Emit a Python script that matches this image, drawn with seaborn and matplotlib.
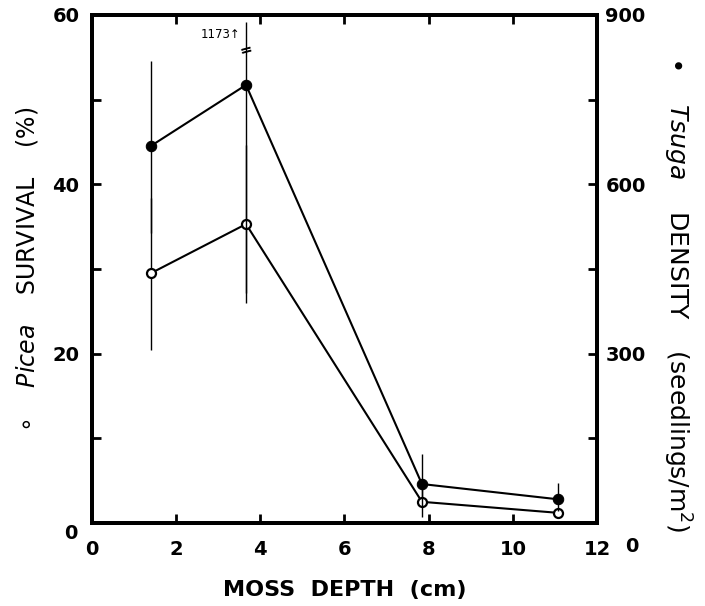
import matplotlib
matplotlib.use('Agg')
import matplotlib.pyplot as plt
import matplotlib.transforms as mtransforms
import seaborn as sns
import pandas as pd

# moss depth (cm)
depth = [1.4, 3.66, 7.84, 11.07]

# Picea survival (%), open circles, left axis
picea = [29.5, 35.3, 2.5, 1.2]
picea_lo = [20.4, 26.0, 0.7, 0.6]
picea_hi = [38.4, 44.6, 4.3, 1.8]

# Tsuga density (seedlings/m2), filled circles, right axis
tsuga = [668, 776, 69, 42]
tsuga_lo = [513, 408, 30, 22]
tsuga_hi = [818, 1173, 122, 71]

TSUGA_CLIP = 888  # where the off-scale bar is cut

sns.set_style('ticks')
plt.rcParams['font.family'] = ['DejaVu Sans']
plt.rcParams['text.color'] = 'black'
plt.rcParams['axes.labelcolor'] = 'black'
plt.rcParams['xtick.color'] = 'black'
plt.rcParams['ytick.color'] = 'black'
plt.rcParams['mathtext.fontset'] = 'custom'
plt.rcParams['mathtext.it'] = 'DejaVu Sans:italic'
plt.rcParams['mathtext.rm'] = 'DejaVu Sans'

df = pd.DataFrame({'depth': depth, 'picea': picea, 'tsuga': tsuga})

fig = plt.figure(figsize=(7.05, 6.06), dpi=100)
ax = fig.add_axes([0.1305, 0.137, 0.7163, 0.8383])
ax2 = ax.twinx()

# error bars
ax.vlines(depth, picea_lo, picea_hi, color='black', lw=1.0, zorder=2)
ax2.vlines(depth, tsuga_lo, [min(v, TSUGA_CLIP) for v in tsuga_hi],
           color='black', lw=1.0, zorder=2)

sns.lineplot(data=df, x='depth', y='picea', ax=ax, color='black', lw=1.5,
             marker='o', markersize=6.5, markerfacecolor='white',
             markeredgecolor='black', markeredgewidth=1.6, zorder=3)
sns.lineplot(data=df, x='depth', y='tsuga', ax=ax2, color='black', lw=1.5,
             marker='o', markersize=7.5, markerfacecolor='black',
             markeredgecolor='black', zorder=3)

# break mark and off-scale value
ax2.text(depth[1], 838, '=', rotation=15, ha='center', va='center',
         fontsize=11, fontweight='bold', color='black')
ax2.text(3.52, 866, '1173\u2191', ha='right', va='center', fontsize=8.5,
         color='black')

ax.set_xlim(0, 12)
ax.set_ylim(0, 60)
ax2.set_ylim(0, 900)
ax.set_xticks(range(0, 13, 2))
ax.set_yticks([0, 20, 40, 60])
ax.set_yticks([10, 30, 50], minor=True)
ax2.set_yticks([0, 300, 600, 900])
ax2.set_yticks([150, 450, 750], minor=True)

for a in (ax, ax2):
    for s in a.spines.values():
        s.set_linewidth(2.8)
        s.set_visible(True)
        s.set_color('black')

ax.tick_params(axis='both', which='both', direction='in', length=6.5, width=2,
               labelsize=14)
ax.tick_params(axis='x', top=True, pad=12)
ax.tick_params(axis='y', pad=9)
ax2.tick_params(axis='y', which='both', direction='in', length=6.5, width=2,
                labelsize=14, pad=6)
for lab in ax.get_xticklabels() + ax.get_yticklabels() + ax2.get_yticklabels():
    lab.set_fontweight('bold')

# the zero labels sit a little low in the original
zl = ax.get_yticklabels()[0]
zl.set_transform(zl.get_transform()
                 + mtransforms.ScaledTranslation(-0.02, -0.09, fig.dpi_scale_trans))
zr = ax2.get_yticklabels()[0]
zr.set_transform(zr.get_transform()
                 + mtransforms.ScaledTranslation(0.2, -0.22, fig.dpi_scale_trans))

ax.set_xlabel('MOSS  DEPTH  (cm)', fontsize=16, fontweight='bold', va='center')
ax.xaxis.set_label_coords(0.5, -0.132)
ax.set_ylabel(r'$\circ$    $\it{Picea}$    SURVIVAL    (%)', fontsize=17,
              va='center')
ax.yaxis.set_label_coords(-0.129, 0.5)
ax2.set_ylabel(r'$\bullet$    $\it{Tsuga}$    DENSITY    (seedlings/m$^2$)',
               fontsize=18, rotation=270, va='center')
ax2.yaxis.set_label_coords(1.158, 0.45)

fig.savefig('out.png', dpi=100)
